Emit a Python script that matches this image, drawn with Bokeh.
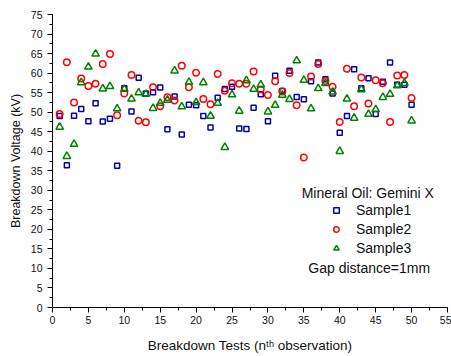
from bokeh.plotting import figure
from bokeh.models import Range1d, SingleIntervalTicker, Legend, LegendItem, Label
from bokeh.embed import file_html
from bokeh.resources import INLINE

# ---- data ----
tests = list(range(1, 51))
sample1 = [49.0, 36.4, 49.1, 50.8, 47.7, 52.3, 47.6, 48.3, 36.3, 56.1,
           50.2, 58.8, 54.8, 55.1, 56.3, 45.6, 54.0, 44.3, 51.9, 51.8,
           49.0, 46.1, 53.7, 55.9, 56.5, 45.8, 45.7, 51.1, 54.6, 47.7,
           59.3, 55.4, 60.6, 53.9, 53.3, 57.9, 62.7, 58.4, 54.8, 44.7,
           49.0, 61.0, 56.1, 58.7, 49.5, 57.8, 62.7, 57.0, 57.0, 51.9]
sample2 = [49.5, 62.8, 52.5, 58.6, 56.7, 57.3, 62.3, 64.9, 49.2, 54.8,
           59.5, 47.8, 47.4, 56.4, 51.5, 53.8, 53.0, 61.9, 56.4, 60.1,
           53.4, 52.0, 59.8, 55.5, 57.4, 57.3, 57.3, 60.4, 55.8, 54.4,
           57.9, 55.3, 60.0, 51.8, 38.4, 59.1, 62.3, 58.0, 56.5, 47.5,
           61.1, 51.5, 58.9, 52.2, 58.2, 57.4, 47.5, 59.4, 59.5, 53.6]
sample3 = [46.2, 38.7, 41.8, 57.6, 61.6, 64.9, 56.0, 56.6, 50.9, 55.9,
           53.4, 55.0, 54.6, 51.0, 52.3, 53.1, 60.6, 51.4, 57.7, 52.5,
           57.6, 49.0, 52.3, 41.0, 54.5, 50.3, 58.1, 55.9, 57.0, 50.1,
           51.8, 54.4, 53.3, 63.2, 58.2, 50.9, 56.1, 57.4, 55.2, 40.0,
           53.4, 48.5, 55.8, 49.5, 50.7, 53.8, 54.6, 56.8, 57.4, 47.8]
series_names = ["Sample1", "Sample2", "Sample3"]
legend_title = "Mineral Oil: Gemini X"
legend_note = "Gap distance=1mm"
x_label = "Breakdown Tests (n\u1d57\u02b0 observation)"
y_label = "Breakdown Voltage (kV)"

FONT = "Liberation Sans"

p = figure(frame_width=395, frame_height=293,
           min_border_left=52, min_border_right=4,
           min_border_top=14, min_border_bottom=49,
           x_range=Range1d(0, 55), y_range=Range1d(0, 75),
           output_backend="svg", toolbar_location=None)
p.outline_line_color = None
p.xgrid.visible = False
p.ygrid.visible = False
p.background_fill_color = "white"
p.border_fill_color = "white"

for ax in (p.xaxis[0], p.yaxis[0]):
    ax.ticker = SingleIntervalTicker(interval=5, num_minor_ticks=2)
    ax.major_tick_in = 0
    ax.major_tick_out = 5
    ax.minor_tick_in = 0
    ax.minor_tick_out = 3
    ax.axis_line_color = "black"
    ax.major_tick_line_color = "black"
    ax.minor_tick_line_color = "black"
    ax.major_label_text_font = FONT
    ax.major_label_text_font_size = "10.5px"
    ax.major_label_text_color = "#111111"
    ax.axis_label_text_font = FONT
    ax.axis_label_text_font_style = "normal"
    ax.axis_label_text_color = "#111111"

p.xaxis.axis_label = x_label
p.yaxis.axis_label = y_label
p.xaxis.axis_label_text_font_size = "13.5px"
p.yaxis.axis_label_text_font_size = "12.5px"
p.xaxis.major_label_standoff = 3
p.yaxis.major_label_standoff = 5
p.xaxis.axis_label_standoff = 11
p.yaxis.axis_label_standoff = 5

r1 = p.scatter(tests, sample1, marker="square", size=5, line_color="#0000A8",
               line_width=1.5, fill_color=None)
r2 = p.scatter(tests, sample2, marker="circle", size=6.5, line_color="#FF0000",
               line_width=1.5, fill_color=None)
r3 = p.scatter(tests, sample3, marker="triangle", size=7.5, line_color="#008000",
               line_width=1.5, fill_color=None)

legend = Legend(items=[LegendItem(label=series_names[0], renderers=[r1]),
                       LegendItem(label=series_names[1], renderers=[r2]),
                       LegendItem(label=series_names[2], renderers=[r3])],
                location=(274, 51), padding=0, margin=0, spacing=3,
                glyph_width=20, glyph_height=14, label_height=14,
                label_standoff=10, label_text_font=FONT,
                label_text_font_size="14px", label_text_color="#111111",
                border_line_color=None, background_fill_alpha=0)
p.add_layout(legend)

p.add_layout(Label(x=43.9, y=29.2, text=legend_title, text_align="center",
                   text_baseline="middle", text_font=FONT,
                   text_font_size="14px", text_color="#111111"))
p.add_layout(Label(x=44.1, y=10.0, text=legend_note, text_align="center",
                   text_baseline="middle", text_font=FONT,
                   text_font_size="14px", text_color="#111111"))

open("out.html", "w").write(file_html(p, INLINE))
